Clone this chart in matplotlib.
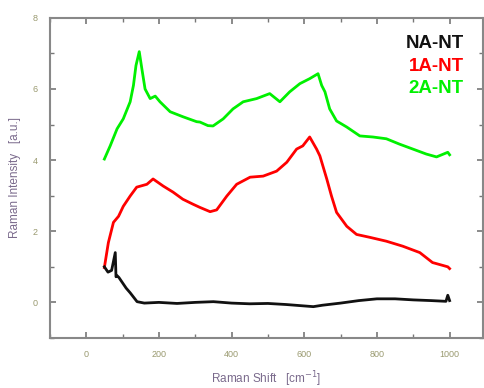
import numpy as np
from matplotlib import pyplot as plt

## Values ##
# 2A-NT (green)
x_2a = [50, 66, 85, 102, 121, 130, 137, 146, 153, 162, 176, 190, 203, 231, 266, 304, 313, 335, 349,
        377, 404, 432, 469, 505, 533, 560, 588, 615, 638, 648, 657, 670, 689, 717, 753, 789, 826,
        862, 899, 936, 964, 995, 1000]
y_2a = [4.03, 4.4, 4.88, 5.16, 5.64, 6.1, 6.66, 7.05, 6.58, 6.0, 5.73, 5.8, 5.64, 5.36, 5.22, 5.08, 5.07, 4.97, 4.96,
        5.16, 5.44, 5.64, 5.73, 5.87, 5.64, 5.92, 6.15, 6.29, 6.43, 6.1, 5.92, 5.44, 5.1, 4.93, 4.68, 4.65, 4.6,
        4.45, 4.31, 4.17, 4.09, 4.22, 4.15]

# 1A-NT (red)
x_1a = [50, 61, 75, 89, 102, 121, 139, 167, 184, 212, 239, 266, 294, 313, 341, 359, 387, 414,
        451, 487, 524, 552, 579, 596, 615, 634, 643, 662, 675, 689, 717, 744, 780, 826, 871, 918,
        953, 995, 1000]
y_1a = [0.98, 1.68, 2.25, 2.42, 2.7, 2.99, 3.24, 3.32, 3.47, 3.27, 3.1, 2.9, 2.76, 2.67, 2.55, 2.6, 2.99, 3.32,
        3.52, 3.55, 3.69, 3.94, 4.31, 4.4, 4.65, 4.31, 4.12, 3.47, 2.99, 2.53, 2.14, 1.91, 1.83, 1.72, 1.58, 1.4,
        1.12, 1.0, 0.95]

# NA-NT (black)
x_na = [50, 60, 70, 80, 82, 85, 90, 100, 110, 121, 140, 160, 200, 250, 300, 350, 400, 450, 500,
        550, 600, 625, 650, 700, 750, 800, 850, 900, 950, 990, 995, 1000]
y_na = [1.0, 0.85, 0.9, 1.4, 0.72, 0.75, 0.7, 0.55, 0.4, 0.27, 0.02, -0.02, 0.0, -0.03, 0.0, 0.02, -0.02, -0.04, -0.03,
        -0.06, -0.1, -0.12, -0.08, -0.02, 0.05, 0.1, 0.1, 0.07, 0.05, 0.03, 0.2, 0.05]

labels = ['NA-NT', '1A-NT', '2A-NT']
colors = ['#111111', '#ff0000', '#00f000']

## Plot ##
plt.rcParams['font.family'] = ['Liberation Sans', 'DejaVu Sans']
fig = plt.figure(figsize=(4.84, 3.88), dpi=100)
ax = fig.add_axes([0.103, 0.129, 0.895, 0.825])

ax.plot(x_2a, y_2a, color=colors[2], lw=2.0)
ax.plot(x_1a, y_1a, color=colors[1], lw=2.0)
ax.plot(x_na, y_na, color=colors[0], lw=2.0)

ax.set_xlim(-100, 1092)
ax.set_ylim(-1, 8)
ax.set_xticks(np.arange(0, 1001, 200))
ax.set_xticks(np.arange(-100, 1092, 100), minor=True)
ax.set_yticks(np.arange(0, 9, 2))
ax.set_yticks(np.arange(-1, 9, 1), minor=True)

for s in ax.spines.values():
    s.set_color('#888888')
    s.set_linewidth(1.5)
ax.tick_params(which='both', direction='in', top=True, right=True, color='#777777',
               labelsize=6.5, labelcolor='#9a9a70', pad=9)
ax.tick_params(which='major', length=4, width=1.2)
ax.tick_params(which='minor', length=3, width=1)

ax.set_xlabel('Raman Shift   [cm$^{-1}$]', fontsize=8.5, color='#7a6a8c', labelpad=7)
ax.set_ylabel('Raman Intensity   [a.u.]', fontsize=8.5, color='#7a6a8c', labelpad=8)

for i, lab in enumerate(labels):
    ax.text(0.956, 0.919 - i * 0.07, lab, transform=ax.transAxes, ha='right', va='center',
            fontsize=13.5, fontweight='bold', color=colors[i])

plt.savefig('out.png', dpi=100)
